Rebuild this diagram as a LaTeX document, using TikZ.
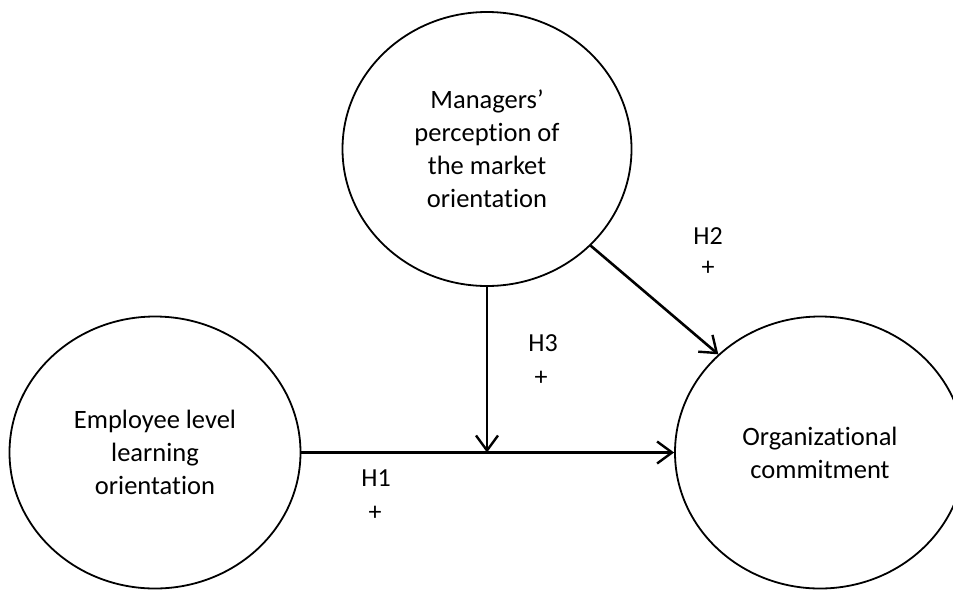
\documentclass[tikz,border=0pt]{standalone}
\usepackage{fontspec}
\setmainfont{Carlito}[Ligatures={NoCommon},RawFeature={-liga;-clig;-dlig}]
\usetikzlibrary{shapes.geometric,arrows.meta}
\begin{document}
\begin{tikzpicture}[x=1pt,y=-1pt,
  construct/.style={draw, ellipse, line width=1.8pt, inner sep=0pt, align=center,
    font=\fontsize{26.5}{33}\selectfont},
  path/.style={line width=2.6pt, -{Straight Barb[length=15pt,width=22pt,line width=2.4pt]}},
  hyp/.style={font=\fontsize{26}{33}\selectfont, inner sep=0pt}]
\clip (0,0) rectangle (953,590);
\node[construct, minimum width=289pt, minimum height=274pt] (top) at (487,149)
  {Managers’\\perception of\\the market\\orientation};
\node[construct, minimum width=291pt, minimum height=272pt] (left) at (155,452.5)
  {Employee level\\learning\\orientation};
\node[construct, minimum width=290pt, minimum height=272pt] (right) at (820,452.5)
  {Organizational\\commitment};
\coordinate (meet) at (487,452.5);
\draw[path] (left.east) -- (right.west);
\draw[path] (top.south) -- (meet);
\draw[path] (top.-43.5) -- (right.136.7);
\node[hyp] (h1) at (376,478) {H1};
\node[hyp] (p1) at (375,513) {+};
\node[hyp] (h2) at (708,236) {H2};
\node[hyp] (p2) at (708,268) {+};
\node[hyp] (h3) at (543,343) {H3};
\node[hyp] (p3) at (541,378) {+};
\end{tikzpicture}
\end{document}
